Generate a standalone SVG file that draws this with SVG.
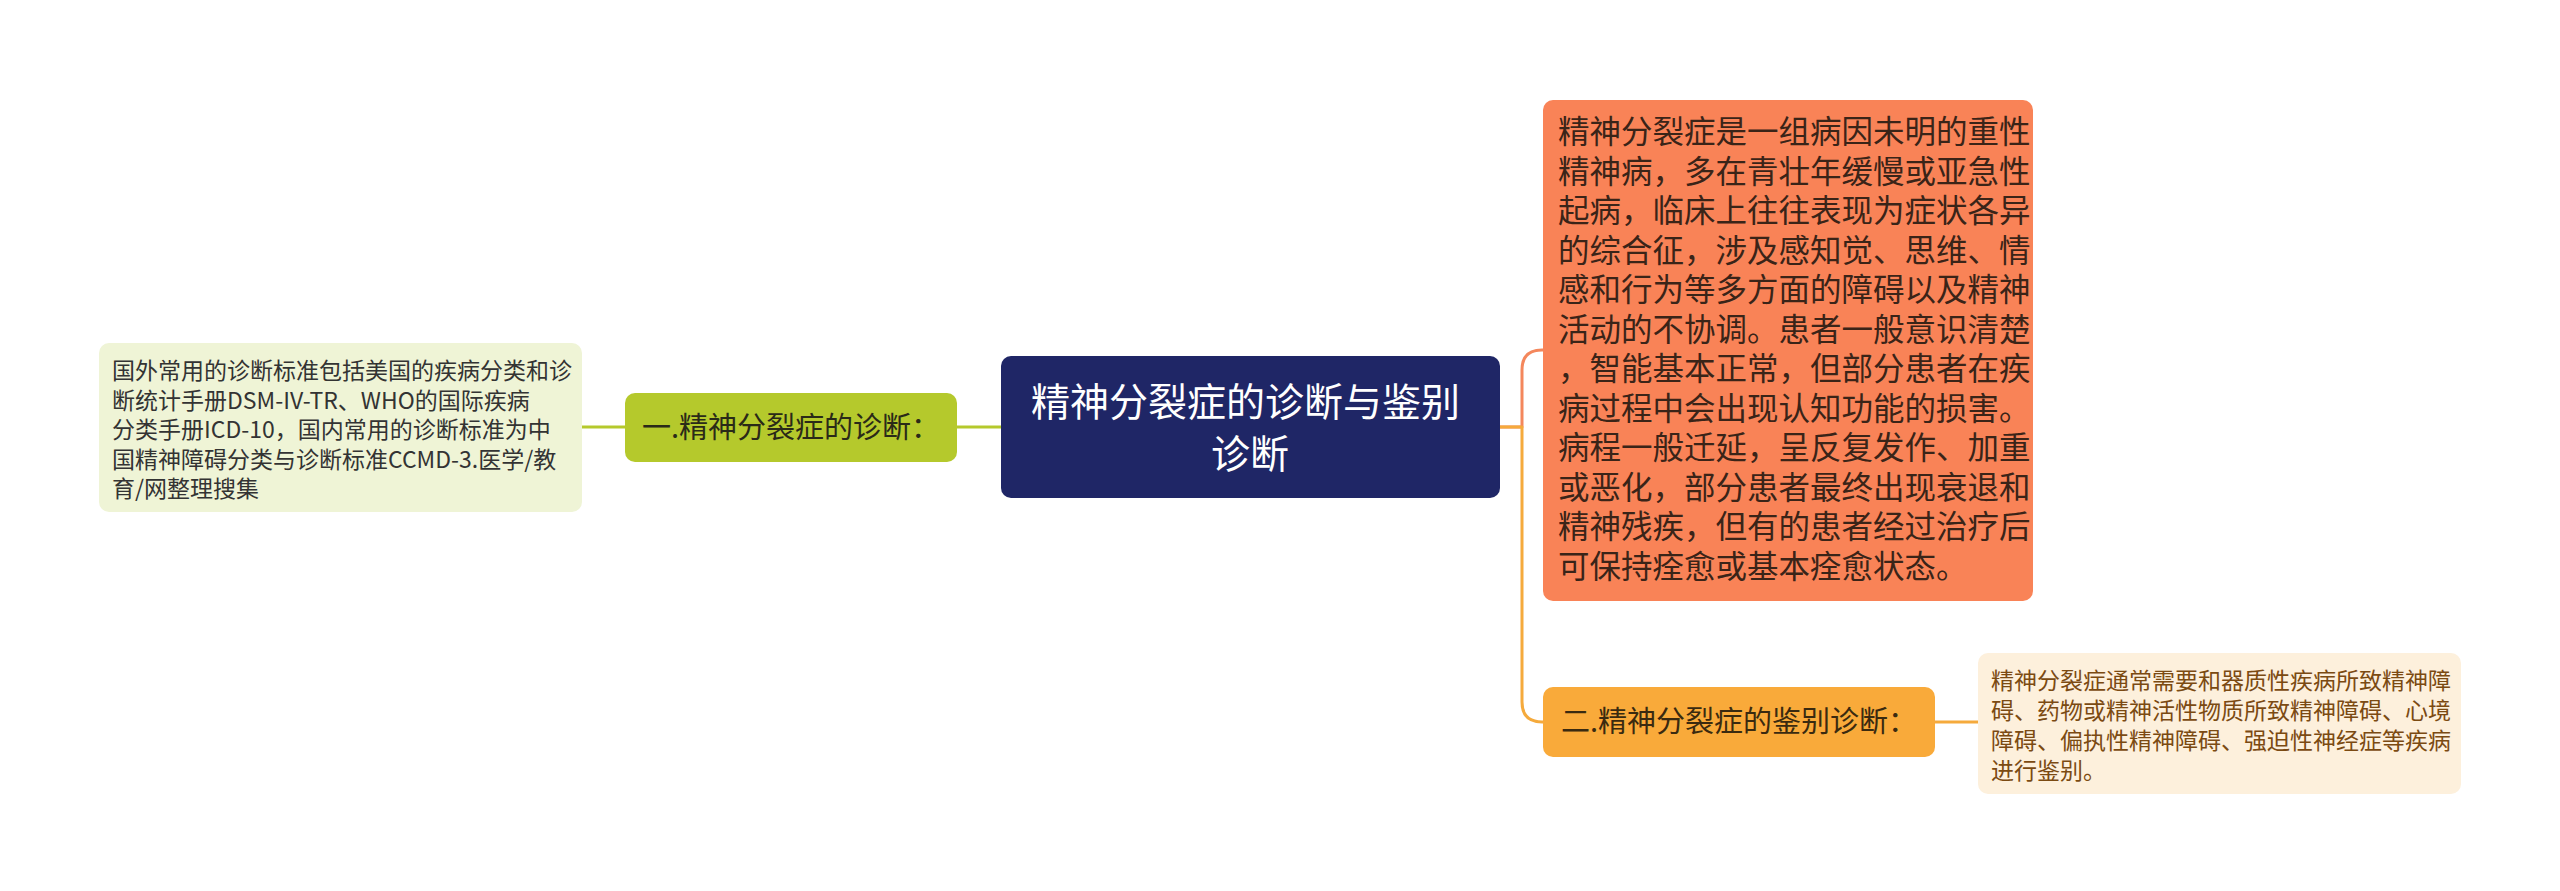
<svg xmlns="http://www.w3.org/2000/svg" width="2560" height="891" viewBox="0 0 2560 891">
<style>
text{font-family:"Noto Sans CJK SC","Noto Sans",sans-serif}
.small{font-size:23px}
.conn{fill:none;stroke-width:3;stroke-linecap:round;stroke-linejoin:round}
</style>
<rect width="2560" height="891" fill="#ffffff"/>
<g id="connectors">
<path class="conn" stroke="#b5c92c" d="M582 427H625"/>
<path class="conn" stroke="#b5c92c" d="M957 427H1001"/>
<path class="conn" stroke="#f4875c" d="M1500 427H1522V370Q1522 350 1542 350H1543"/>
<path class="conn" stroke="#f5aa3c" d="M1500 427H1522V702Q1522 722 1542 722H1543"/>
<path class="conn" stroke="#f5aa3c" d="M1935 722H1978"/>
</g>
<g id="left-detail">
<rect x="99" y="343" width="483" height="169" rx="10" fill="#eff4d6"/>
<text class="small" fill="#333333" x="112">
<tspan x="112" y="379">国外常用的诊断标准包括美国的疾病分类和诊</tspan>
<tspan x="112" y="408.5">断统计手册DSM-IV-TR、WHO的国际疾病</tspan>
<tspan x="112" y="438">分类手册ICD-10，国内常用的诊断标准为中</tspan>
<tspan x="112" y="467.5">国精神障碍分类与诊断标准CCMD-3.医学/教</tspan>
<tspan x="112" y="497">育/网整理搜集</tspan>
</text>
</g>
<g id="node-diagnosis">
<rect x="625" y="393" width="332" height="69" rx="10" fill="#b5c92c"/>
<text x="791" y="438" font-size="29" fill="#2a2a18" text-anchor="middle">一.精神分裂症的诊断：</text>
</g>
<g id="center">
<rect x="1001" y="356" width="499" height="142" rx="10" fill="#1f2666"/>
<text font-size="39" fill="#ffffff" text-anchor="middle">
<tspan x="1250" y="416">精神分裂症的诊断与鉴别</tspan>
<tspan x="1250" y="468">诊断</tspan>
</text>
</g>
<g id="orange-detail">
<rect x="1543" y="100" width="490" height="501" rx="10" fill="#f98357"/>
<text font-size="31.5" fill="#3a2418">
<tspan x="1558" y="143">精神分裂症是一组病因未明的重性</tspan>
<tspan x="1558" y="182.5">精神病，多在青壮年缓慢或亚急性</tspan>
<tspan x="1558" y="222">起病，临床上往往表现为症状各异</tspan>
<tspan x="1558" y="261.5">的综合征，涉及感知觉、思维、情</tspan>
<tspan x="1558" y="301">感和行为等多方面的障碍以及精神</tspan>
<tspan x="1558" y="340.5">活动的不协调。患者一般意识清楚</tspan>
<tspan x="1558" y="380">，智能基本正常，但部分患者在疾</tspan>
<tspan x="1558" y="419.5">病过程中会出现认知功能的损害。</tspan>
<tspan x="1558" y="459">病程一般迁延，呈反复发作、加重</tspan>
<tspan x="1558" y="498.5">或恶化，部分患者最终出现衰退和</tspan>
<tspan x="1558" y="538">精神残疾，但有的患者经过治疗后</tspan>
<tspan x="1558" y="577.5">可保持痊愈或基本痊愈状态。</tspan>
</text>
</g>
<g id="node-differential">
<rect x="1543" y="687" width="392" height="70" rx="10" fill="#f9aa3a"/>
<text x="1739" y="732" font-size="29" fill="#3a2a10" text-anchor="middle">二.精神分裂症的鉴别诊断：</text>
</g>
<g id="right-detail">
<rect x="1978" y="653" width="483" height="141" rx="10" fill="#fdf0dc"/>
<text class="small" fill="#7b4a12">
<tspan x="1991" y="689">精神分裂症通常需要和器质性疾病所致精神障</tspan>
<tspan x="1991" y="719">碍、药物或精神活性物质所致精神障碍、心境</tspan>
<tspan x="1991" y="749">障碍、偏执性精神障碍、强迫性神经症等疾病</tspan>
<tspan x="1991" y="779">进行鉴别。</tspan>
</text>
</g>
</svg>
